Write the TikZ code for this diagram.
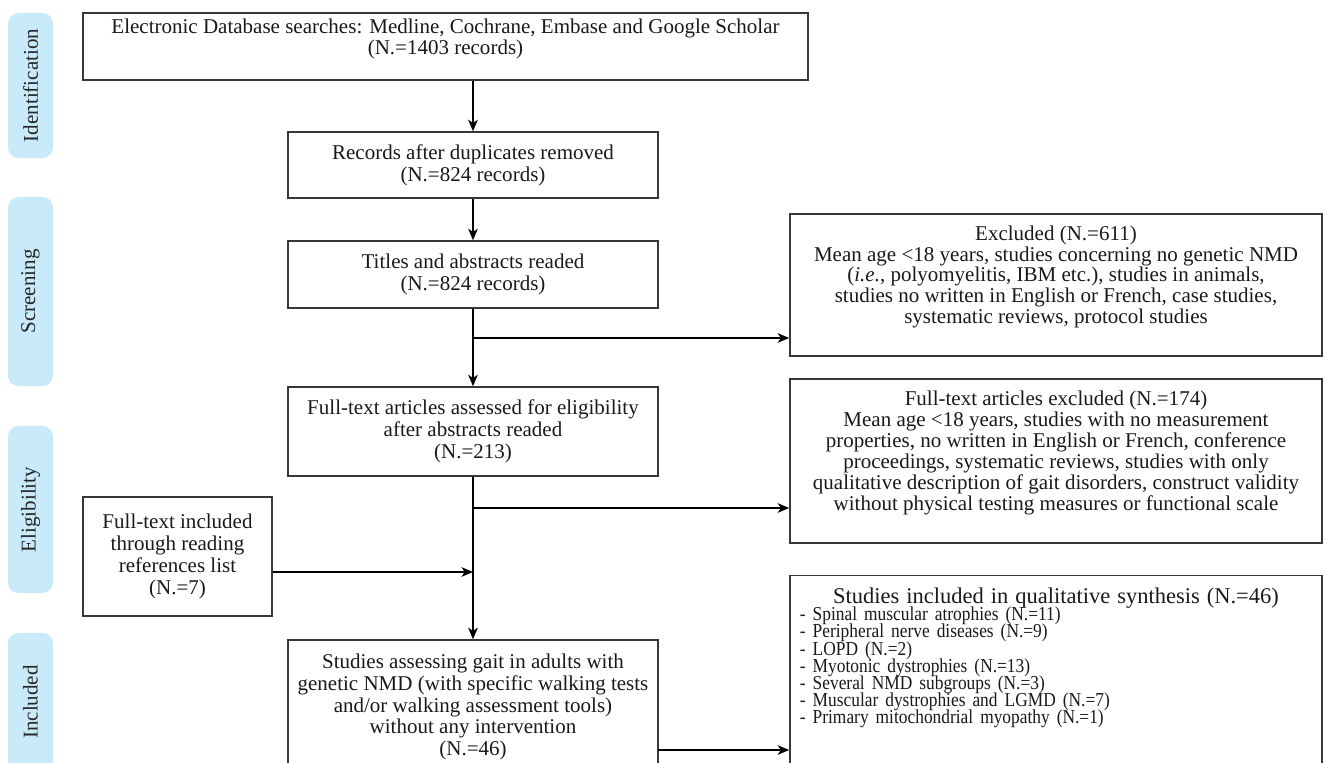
\documentclass[tikz,border=0pt]{standalone}
\usepackage{fontspec}
\setmainfont{Liberation Serif}
\newfontfamily\listfont{Liberation Serif}[FakeStretch=0.88]
\usetikzlibrary{arrows.meta}
\definecolor{phaseblue}{RGB}{200,234,249}
\definecolor{boxline}{RGB}{55,55,55}
\def\pu{0.476pt}

\begin{document}
\begin{tikzpicture}[x=0.01673cm, y=-0.01673cm,
        font=\fontsize{10pt}{10.4pt}\selectfont,
        box/.style={draw=boxline, line width=0.7pt, align=center, inner sep=2pt, text=black!90},
        sidebox/.style={box, font=\fontsize{10pt}{9.9pt}\selectfont},
        phase/.style={fill=phaseblue, rounded corners=5pt, rotate=90, minimum height=45*\pu, inner sep=0pt, text=black!85},
        arr/.style={-{Stealth[length=5.5pt, width=4.6pt, inset=1.6pt]}, line width=0.7pt}]

    \useasboundingbox (0,0) rectangle (1327,763);
    \clip (0,0) rectangle (1327,763);

    % phases
    \foreach \name/\y/\len in {Identification/85.5/145, Screening/291.5/189, Eligibility/509.5/167, Included/702/138}
        \node[phase, minimum width=\len*\pu] (ph-\name) at (30.5,\y) {\name};

    % main column
    \node[box, minimum width=725*\pu, minimum height=67*\pu, text depth=9.3pt] (search) at (445.5,46.5)
        {Electronic Database searches: Medline, Cochrane, Embase and Google Scholar\\(N.=1403 records)};
    \node[box, minimum width=370*\pu, minimum height=66*\pu] (dupl) at (473,165)
        {Records after duplicates removed\\(N.=824 records)};
    \node[box, minimum width=370*\pu, minimum height=67*\pu] (titles) at (473,274.5)
        {Titles and abstracts readed\\(N.=824 records)};
    \node[box, minimum width=370*\pu, minimum height=89*\pu] (full) at (473,431.5)
        {Full-text articles assessed for eligibility\\after abstracts readed\\(N.=213)};
    \node[box, minimum width=370*\pu, minimum height=134*\pu] (gait) at (473,707)
        {Studies assessing gait in adults with\\genetic NMD (with specific walking tests\\and/or walking assessment tools)\\without any intervention\\(N.=46)};
    \node[box, minimum width=189*\pu, minimum height=119*\pu] (refs) at (177.5,556.5)
        {Full-text included\\through reading\\references list\\(N.=7)};

    % right column
    \node[sidebox, minimum width=532*\pu, minimum height=142*\pu, text depth=9.8pt] (excl) at (1056,285)
        {Excluded (N.=611)\\Mean age <18 years, studies concerning no genetic NMD\\(\textit{i.e.}, polyomyelitis, IBM etc.), studies in animals,\\studies no written in English or French, case studies,\\systematic reviews, protocol studies};
    \node[sidebox, minimum width=532*\pu, minimum height=164*\pu, text depth=9.8pt] (fullexcl) at (1056,461)
        {Full-text articles excluded (N.=174)\\Mean age <18 years, studies with no measurement\\properties, no written in English or French, conference\\proceedings, systematic reviews, studies with only\\qualitative description of gait disorders, construct validity\\without physical testing measures or functional scale};
    \node[box, align=left, anchor=north, text width=512*\pu, inner xsep=10*\pu, inner ysep=12*\pu, text depth=95pt] (incl) at (1056,575)
        {\makebox[\linewidth]{\fontsize{10.7pt}{10.4pt}\selectfont Studies included in qualitative synthesis (N.=46)}\\
         \listfont\fontsize{9.4pt}{8.2pt}\selectfont\lineskiplimit=-4pt
         - Spinal muscular atrophies (N.=11)\\
         - Peripheral nerve diseases (N.=9)\\
         - LOPD (N.=2)\\
         - Myotonic dystrophies (N.=13)\\
         - Several NMD subgroups (N.=3)\\
         - Muscular dystrophies and LGMD (N.=7)\\
         - Primary mitochondrial myopathy (N.=1)\par};

    % connectors
    \coordinate (b1) at (473,338);
    \coordinate (b2) at (473,508);
    \coordinate (b3) at (473,572);
    \coordinate (b4) at (658,750);
    \draw[arr] (search.south -| dupl.north) -- (dupl.north);
    \draw[arr] (dupl) -- (titles);
    \draw[arr] (titles) -- (full);
    \draw[arr] (b1) -- (b1 -| excl.west);
    \draw[arr] (full) -- (gait);
    \draw[arr] (b2) -- (b2 -| fullexcl.west);
    \draw[arr] (refs.east |- b3) -- (b3);
    \draw[arr] (b4) -- (b4 -| incl.west);

\end{tikzpicture}
\end{document}
